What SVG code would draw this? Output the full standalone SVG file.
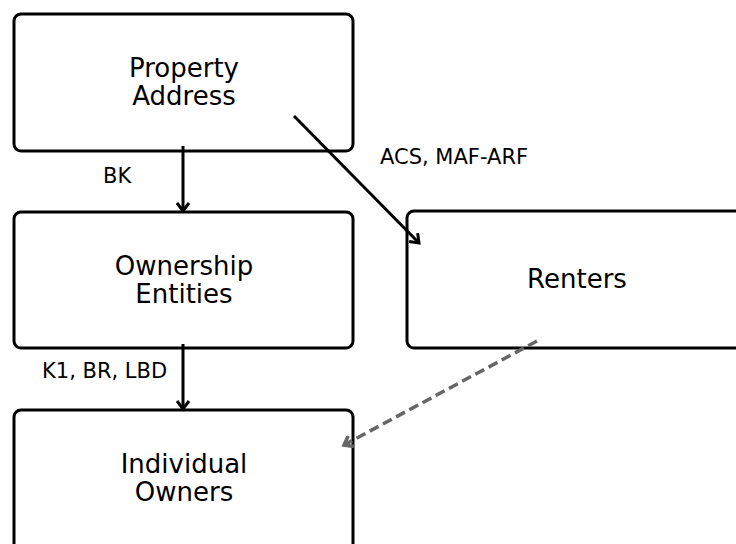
<svg xmlns="http://www.w3.org/2000/svg" width="736" height="544" viewBox="0 0 736 544">
<style>
.box{fill:#fff;stroke:#000;stroke-width:3}
.nt{font-family:"DejaVu Sans",sans-serif;font-size:26px;text-anchor:middle;fill:#000}
.lb{font-family:"DejaVu Sans",sans-serif;font-size:21px;fill:#000}
.c{fill:none;stroke:#000;stroke-width:3}
.d{fill:none;stroke:#666;stroke-width:3.5;stroke-dasharray:10 5}
</style>
<defs>
<marker id="ah" markerWidth="14" markerHeight="14" refX="10" refY="7" orient="auto" markerUnits="userSpaceOnUse">
<path d="M2,1 L10,7 L2,13" fill="none" stroke="#000" stroke-width="3"/>
</marker>
<marker id="ahg" markerWidth="14" markerHeight="14" refX="10" refY="7" orient="auto" markerUnits="userSpaceOnUse">
<path d="M2,1 L10,7 L2,13" fill="none" stroke="#666" stroke-width="3.5"/>
</marker>
</defs>
<rect width="736" height="544" fill="#fff"/>
<g id="property-address">
<rect class="box" x="14" y="14" width="339" height="137" rx="7"/>
<text class="nt" x="184" y="77">Property</text>
<text class="nt" x="184" y="105">Address</text>
</g>
<g id="ownership-entities">
<rect class="box" x="14" y="212" width="339" height="136" rx="7"/>
<text class="nt" x="184" y="275">Ownership</text>
<text class="nt" x="184" y="303">Entities</text>
</g>
<g id="individual-owners">
<rect class="box" x="14" y="410" width="339" height="150" rx="7"/>
<text class="nt" x="184" y="473">Individual</text>
<text class="nt" x="184" y="501">Owners</text>
</g>
<g id="renters">
<rect class="box" x="407" y="211" width="350" height="137" rx="7"/>
<text class="nt" x="577" y="288">Renters</text>
</g>
<g id="connectors">
<line class="c" x1="183" y1="146" x2="183" y2="211" marker-end="url(#ah)"/>
<text class="lb" x="103" y="183">BK</text>
<line class="c" x1="183" y1="344" x2="183" y2="409" marker-end="url(#ah)"/>
<text class="lb" x="42" y="378">K1, BR, LBD</text>
<line class="c" x1="294" y1="116" x2="419" y2="243" marker-end="url(#ah)"/>
<text class="lb" x="380" y="164">ACS, MAF-ARF</text>
<line class="d" x1="537" y1="341" x2="344" y2="445" marker-end="url(#ahg)"/>
</g>
</svg>
